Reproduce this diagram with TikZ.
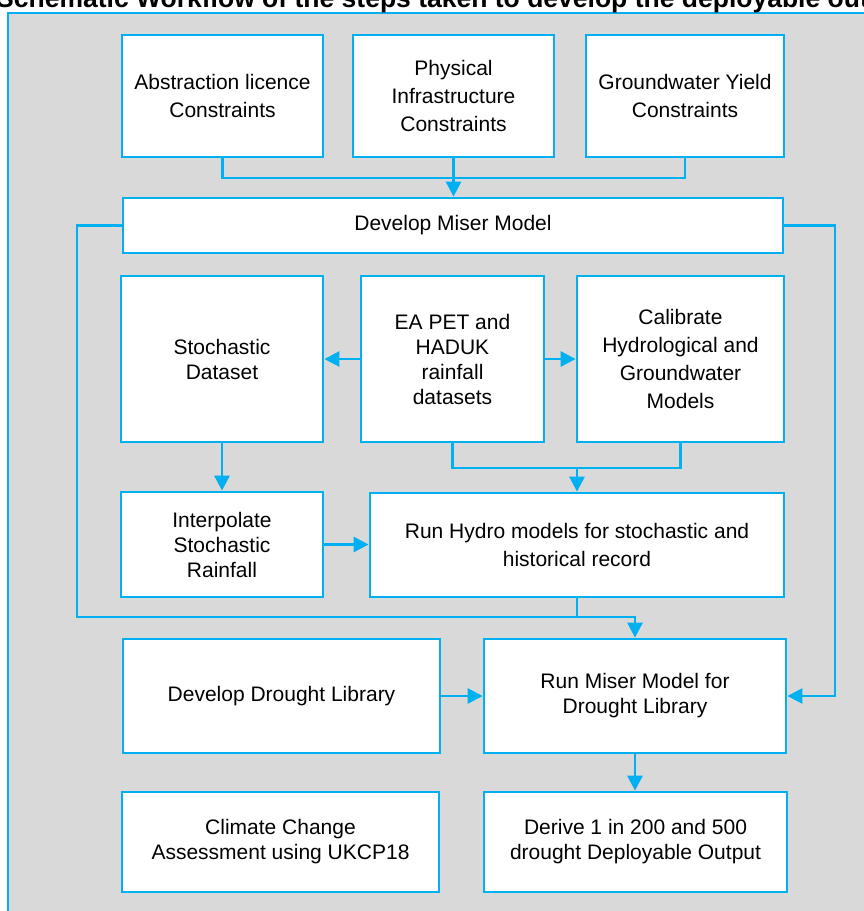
\documentclass[tikz,border=0pt]{standalone}
\usepackage{fontspec}
\setmainfont{Liberation Sans}
\usetikzlibrary{arrows.meta,calc}
\definecolor{cyanline}{HTML}{00B0F0}
\definecolor{panelgray}{HTML}{D9D9D9}
\begin{document}
\begin{tikzpicture}[x=1pt,y=-1pt,
  box/.style={draw=cyanline,line width=2.8pt,fill=white,inner sep=0pt,align=center,
    font=\fontsize{21}{25}\selectfont,text=black},
  box28/.style={box,font=\fontsize{21}{28}\selectfont},
  conn/.style={draw=cyanline,line width=2.8pt},
  arr/.style={conn,-{Triangle[length=15pt,width=15pt]}}]
\useasboundingbox (0,0) rectangle (864,911);
\clip (0,0) rectangle (864,911);
% panel
\path[fill=panelgray,draw=cyanline,line width=2.8pt] (8,13) rectangle (900,960);
% title
\node[anchor=base west,inner sep=0pt,font=\fontsize{26.5}{30}\selectfont\bfseries] (title) at (-4,7.5) {Schematic Workflow of the steps taken to develop the deployable output};
% boxes
\node[box28,minimum width=201pt,minimum height=122pt] (abs) at (222.5,96) {Abstraction licence\\Constraints};
\node[box28,minimum width=201pt,minimum height=122pt] (phys) at (453.5,96) {Physical\\Infrastructure\\Constraints};
\node[box28,minimum width=198pt,minimum height=122pt] (gw) at (685,96) {Groundwater Yield\\Constraints};
\node[box,minimum width=660pt,minimum height=55pt] (miser) at (453,225.5) {Develop Miser Model};
\node[box,minimum width=202pt,minimum height=166pt] (stoch) at (222,359) {Stochastic\\Dataset};
\node[box,minimum width=183pt,minimum height=166pt] (ea) at (452.5,359) {EA PET and\\HADUK\\rainfall\\datasets};
\node[box28,minimum width=207pt,minimum height=166pt] (calib) at (680.5,359) {Calibrate\\Hydrological and\\Groundwater\\Models};
\node[box,minimum width=202pt,minimum height=105pt] (interp) at (222,544.5) {Interpolate\\Stochastic\\Rainfall};
\node[box28,minimum width=414pt,minimum height=104pt] (hydro) at (577,545) {Run Hydro models for stochastic and\\historical record};
\node[box,minimum width=317pt,minimum height=114pt] (ddl) at (281.5,696) {Develop Drought Library};
\node[box,minimum width=302pt,minimum height=114pt] (runmiser) at (635,696) {Run Miser Model for\\Drought Library};
\node[box,minimum width=317pt,minimum height=100pt] (climate) at (280.5,842) {Climate Change\\Assessment using UKCP18};
\node[box,minimum width=303pt,minimum height=100pt] (derive) at (635.5,842) {Derive 1 in 200 and 500\\drought Deployable Output};
% junction coordinates
\coordinate (topj) at (222.5,178);
\coordinate (lft) at (77,617);
\coordinate (rgt) at (835,696);
\coordinate (midj) at (577,468);
% connectors
\draw[conn] (abs.south) -- (topj) -| (gw.south);
\draw[arr] (phys.south) -- (phys.south |- miser.north);
\draw[arr] (miser.west) -| (lft) -| (runmiser.north);
\draw[conn] (hydro.south) |- (runmiser.north |- lft);
\draw[arr] (miser.east) -| (rgt) -- (runmiser.east);
\draw[arr] (ea.west) -- (ea.west -| stoch.east);
\draw[arr] (ea.east) -- (ea.east -| calib.west);
\draw[arr] (stoch.south) -- (interp.north);
\draw[conn] (ea.south) |- (midj) -| (calib.south);
\draw[arr] (midj) -- (hydro.north);
\draw[arr] (interp.east) -- (interp.east -| hydro.west);
\draw[arr] (ddl.east) -- (ddl.east -| runmiser.west);
\draw[arr] (runmiser.south) -- (runmiser.south |- derive.north);
\end{tikzpicture}
\end{document}
